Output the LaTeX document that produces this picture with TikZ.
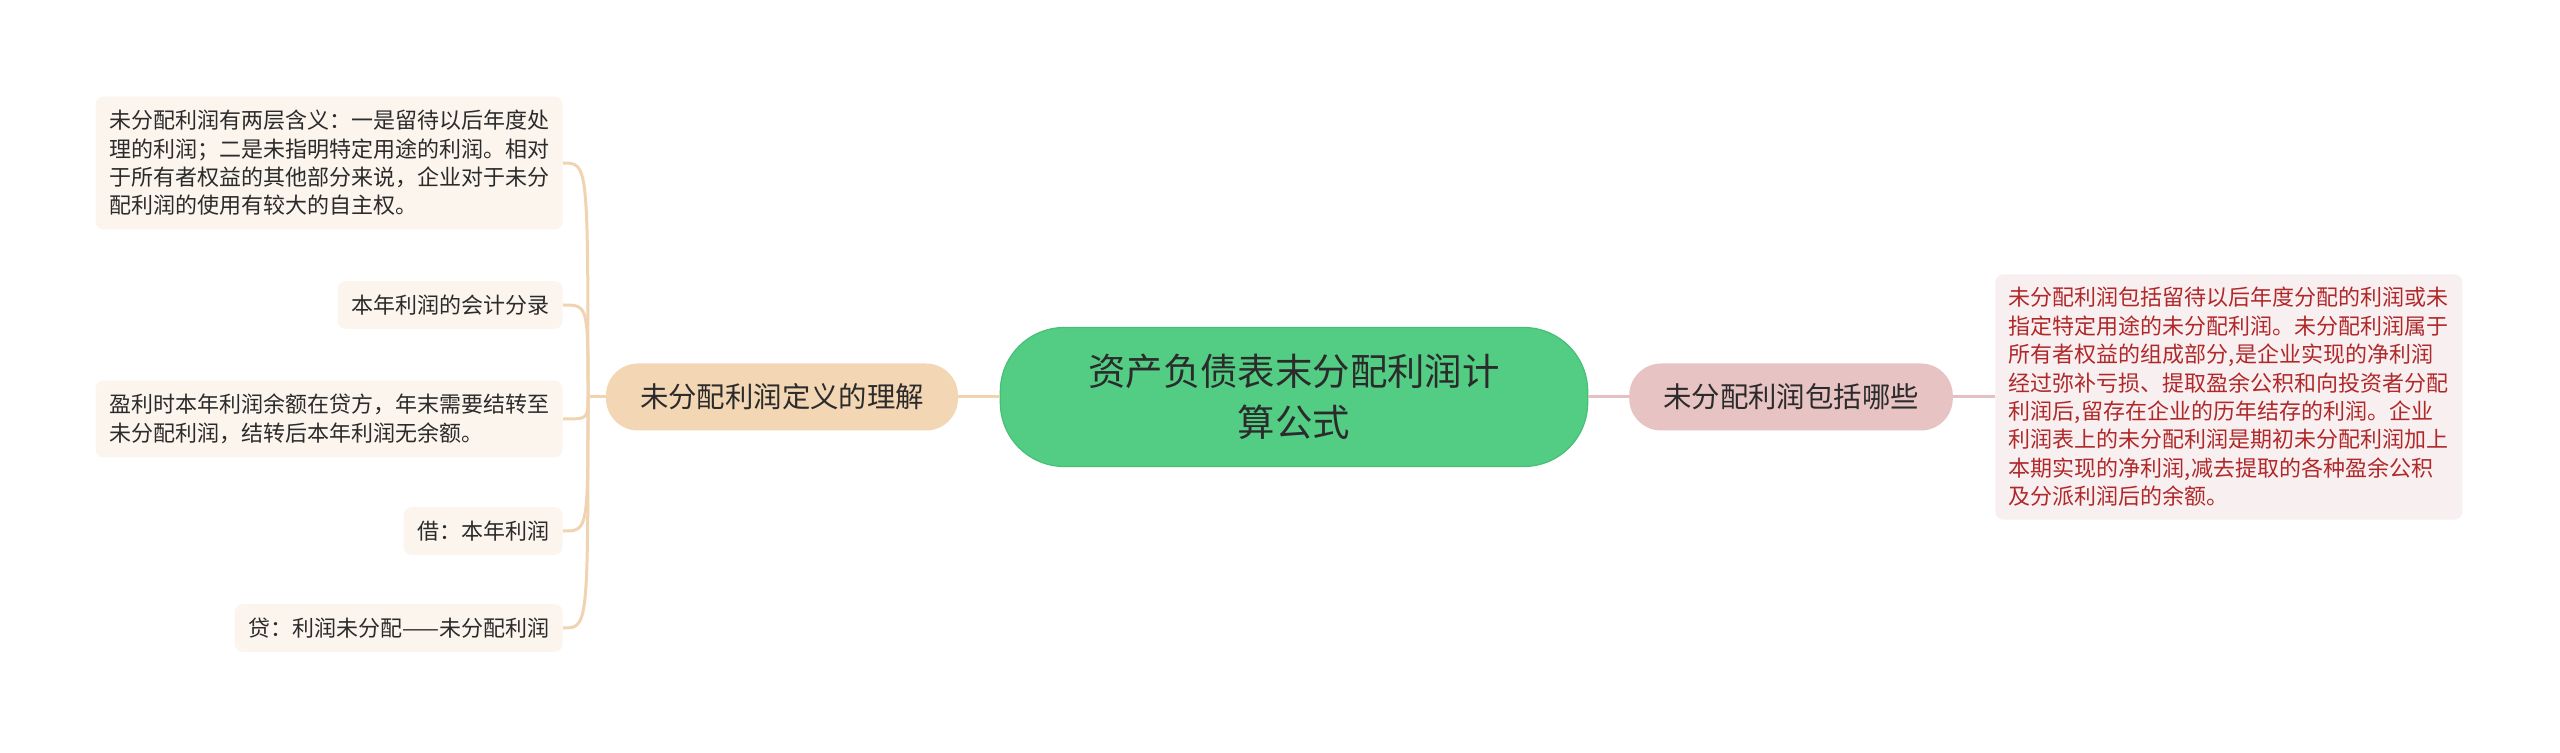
\documentclass[tikz,border=0pt]{standalone}
\usepackage{fontspec}
\setmainfont{Noto Sans CJK SC}
\definecolor{rootgreen}{HTML}{53CC84}
\definecolor{rootedge}{HTML}{48BE77}
\definecolor{branchpeach}{HTML}{F3D6B4}
\definecolor{branchpink}{HTML}{E7C3C3}
\definecolor{leafpeach}{HTML}{FCF5EE}
\definecolor{leafpink}{HTML}{F8F0F0}
\definecolor{linepeach}{HTML}{F0D4B2}
\definecolor{linepink}{HTML}{E4C0C0}
\definecolor{textgray}{HTML}{2B2B2B}
\definecolor{textred}{HTML}{B0282A}

\begin{document}
\begin{tikzpicture}[x=0.5pt, y=-0.5pt,
    root/.style={fill=rootgreen, draw=rootedge, line width=0.6pt, rounded corners=32pt,
        align=center, inner xsep=44pt, minimum height=69.5pt, text=textgray,
        font=\fontsize{18.7pt}{25.3pt}\selectfont},
    branch/.style={rounded corners=16pt, minimum height=33.5pt, inner xsep=17pt,
        text=textgray, font=\fontsize{14.2pt}{17pt}\selectfont},
    leftleaf/.style={fill=leafpeach, rounded corners=4pt, align=left, anchor=east,
        inner xsep=6.75pt, inner ysep=6.8pt, minimum height=23pt, text=textgray,
        font=\fontsize{11pt}{14.2pt}\selectfont},
    rightleaf/.style={fill=leafpink, rounded corners=4pt, align=left, anchor=west,
        inner xsep=6.75pt, inner ysep=6.5pt, text=textred,
        font=\fontsize{11pt}{14.2pt}\selectfont},
    peachline/.style={draw=linepeach, line width=1.5pt},
    pinkline/.style={draw=linepink, line width=1.5pt}]
    \fill[white] (0,0) rectangle (2560,753);
    \useasboundingbox (0,0) rectangle (2560,753);

    \node[root] (root) at (1294,397) {资产负债表末分配利润计\\算公式};
    \node[branch, fill=branchpeach] (meaning) at (782,397) {未分配利润定义的理解};
    \node[branch, fill=branchpink] (include) at (1791,397) {未分配利润包括哪些};

    \node[leftleaf] (twolayer) at (563,163) {未分配利润有两层含义：一是留待以后年度处\\理的利润；二是未指明特定用途的利润。相对\\于所有者权益的其他部分来说，企业对于未分\\配利润的使用有较大的自主权。};
    \node[leftleaf] (entry) at (563,305) {本年利润的会计分录};
    \node[leftleaf] (transfer) at (563,419) {盈利时本年利润余额在贷方，年末需要结转至\\未分配利润，结转后本年利润无余额。};
    \node[leftleaf] (debit) at (563,531) {借：本年利润};
    \node[leftleaf] (credit) at (563,628) {贷：利润未分配——未分配利润};

    \node[rightleaf] (detail) at (1995,397) {未分配利润包括留待以后年度分配的利润或未\\指定特定用途的未分配利润。未分配利润属于\\所有者权益的组成部分,是企业实现的净利润\\经过弥补亏损、提取盈余公积和向投资者分配\\利润后,留存在企业的历年结存的利润。企业\\利润表上的未分配利润是期初未分配利润加上\\本期实现的净利润,减去提取的各种盈余公积\\及分派利润后的余额。};

    \coordinate (hub) at (588,397);
    \draw[peachline] (root.west) -- (meaning.east);
    \draw[peachline] (meaning.west) -- (hub);
    \foreach \leaf in {twolayer, entry, transfer, debit, credit}
        \draw[peachline] (hub) .. controls (hub |- \leaf.east) .. (\leaf.east);
    \draw[pinkline] (root.east) -- (include.west);
    \draw[pinkline] (include.east) -- (detail.west);
\end{tikzpicture}
\end{document}
